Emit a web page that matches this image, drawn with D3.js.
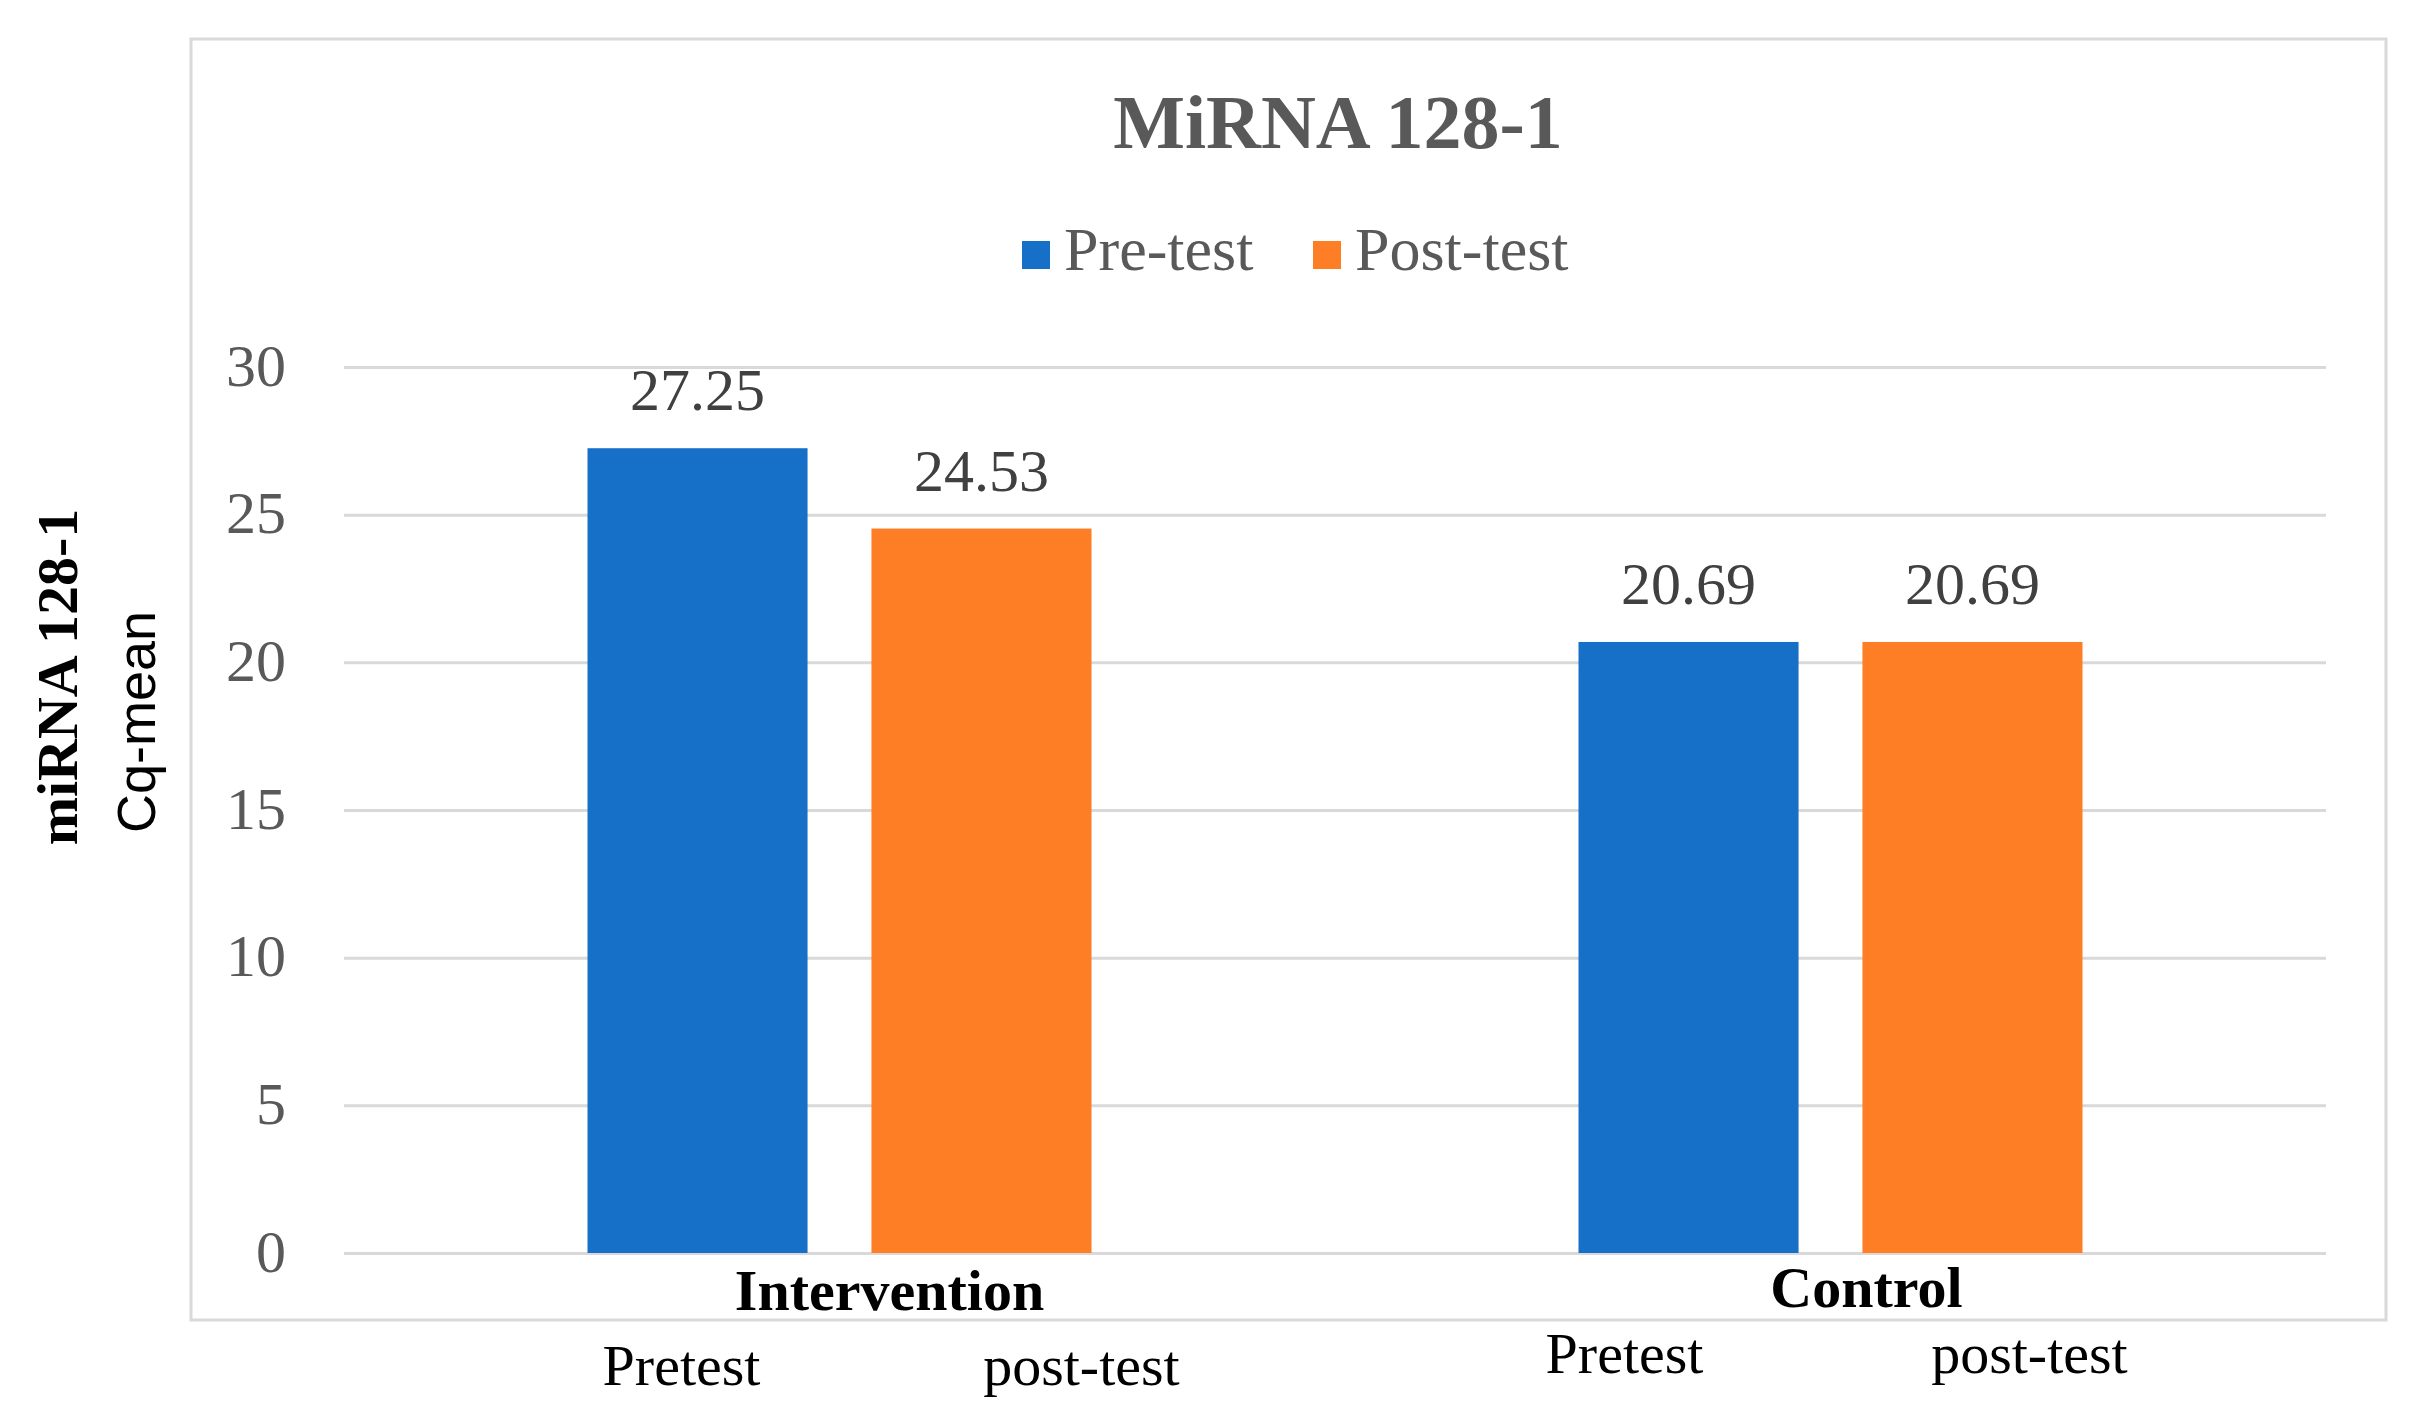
<!DOCTYPE html>
<html>
<head>
<meta charset="utf-8">
<script src="https://cdn.jsdelivr.net/npm/d3@7"></script>
<style>
  html, body { margin: 0; padding: 0; background: #ffffff; }
  svg { display: block; }
</style>
</head>
<body>
<script>
// ---- data ----
const categories = ["Intervention", "Control"];
const seriesNames = ["Pre-test", "Post-test"];
const preTest = [27.25, 20.69];
const postTest = [24.53, 20.69];
const valueLabels = ["27.25", "24.53", "20.69", "20.69"];
const subLabels = [["Pretest", "post-test"], ["Pretest", "post-test"]];
const yTicks = [0, 5, 10, 15, 20, 25, 30];
const chartTitle = "MiRNA 128-1";
const yTitleMain = "miRNA 128-1";
const yTitleSub = "Cq-mean";

// ---- layout ----
const W = 2420, H = 1425;
const colors = ["#1670C8", "#FE7E25"];
const serif = "'Liberation Serif', 'Times New Roman', serif";
const sans = "'Liberation Sans', Arial, sans-serif";
const plot = { left: 344, right: 2326, top: 367, bottom: 1253 };

const svg = d3.select("body").append("svg").attr("width", W).attr("height", H);
svg.append("rect").attr("width", W).attr("height", H).attr("fill", "#fff");

// outer frame
svg.append("rect").attr("x", 191).attr("y", 39).attr("width", 2195).attr("height", 1281)
  .attr("fill", "none").attr("stroke", "#d9d9d9").attr("stroke-width", 3);

const x0 = d3.scaleBand().domain(categories).range([plot.left, plot.right]).padding(0);
const groupW = 504;
const x1 = d3.scaleBand().domain(seriesNames)
  .range([(x0.bandwidth() - groupW) / 2, (x0.bandwidth() + groupW) / 2])
  .paddingInner(0.225).paddingOuter(0);
const y = d3.scaleLinear().domain([0, 30]).range([plot.bottom, plot.top]);

// gridlines via axis
const yAxis = d3.axisLeft(y).tickValues(yTicks).tickSize(-(plot.right - plot.left)).tickPadding(58);
const ga = svg.append("g").attr("transform", `translate(${plot.left},0)`).call(yAxis);
ga.select(".domain").remove();
ga.selectAll(".tick line").attr("stroke", "#d9d9d9").attr("stroke-width", 3);
ga.selectAll(".tick text").attr("font-family", serif).attr("font-size", 60)
  .attr("fill", "#595959").attr("dy", "0.3em");

// bars
const rows = categories.map((c, i) => ({ cat: c, vals: [preTest[i], postTest[i]] }));
const groups = svg.append("g").selectAll("g").data(rows).join("g")
  .attr("transform", d => `translate(${x0(d.cat)},0)`);
groups.selectAll("rect").data((d, i) => d.vals.map((v, j) => ({ s: seriesNames[j], v, j, i })))
  .join("rect")
  .attr("x", d => x1(d.s)).attr("width", x1.bandwidth())
  .attr("y", d => y(d.v)).attr("height", d => y(0) - y(d.v))
  .attr("fill", d => colors[d.j]);

// value labels
groups.selectAll("text.val").data((d, i) => d.vals.map((v, j) => ({ s: seriesNames[j], v, j, i })))
  .join("text").attr("class", "val")
  .attr("x", d => x1(d.s) + x1.bandwidth() / 2)
  .attr("y", d => y(d.v) - 38)
  .attr("text-anchor", "middle")
  .attr("font-family", serif).attr("font-size", 60).attr("fill", "#404040")
  .text(d => valueLabels[d.i * 2 + d.j]);

// category labels
const catDx = [50, 36], catY = [1310, 1307];
svg.append("g").selectAll("text").data(categories).join("text")
  .attr("x", (d, i) => x0(d) + x0.bandwidth() / 2 + catDx[i])
  .attr("y", (d, i) => catY[i])
  .attr("text-anchor", "middle")
  .attr("font-family", serif).attr("font-size", 58).attr("font-weight", "bold").attr("fill", "#000")
  .text(d => d);

// sub labels below frame
const subDx = [[-16, 100], [-64, 57]], subY = [1385, 1373];
categories.forEach((c, i) => {
  seriesNames.forEach((s, j) => {
    svg.append("text")
      .attr("x", x0(c) + x1(s) + x1.bandwidth() / 2 + subDx[i][j])
      .attr("y", subY[i])
      .attr("text-anchor", "middle")
      .attr("font-family", serif).attr("font-size", 58).attr("fill", "#000")
      .text(subLabels[i][j]);
  });
});

// title
svg.append("text").attr("x", 1338).attr("y", 148).attr("text-anchor", "middle")
  .attr("font-family", serif).attr("font-size", 76).attr("font-weight", "bold").attr("fill", "#595959")
  .text(chartTitle);

// legend
const legX = [1022, 1313];
seriesNames.forEach((s, j) => {
  svg.append("rect").attr("x", legX[j]).attr("y", 241).attr("width", 28).attr("height", 28).attr("fill", colors[j]);
  svg.append("text").attr("x", legX[j] + 42).attr("y", 270)
    .attr("font-family", serif).attr("font-size", 62).attr("fill", "#595959").text(s);
});

// y axis titles
svg.append("text").attr("transform", "translate(77,677) rotate(-90)").attr("text-anchor", "middle")
  .attr("font-family", serif).attr("font-size", 58).attr("font-weight", "bold").attr("fill", "#000")
  .text(yTitleMain);
svg.append("text").attr("transform", "translate(155,722) rotate(-90)").attr("text-anchor", "middle")
  .attr("font-family", sans).attr("font-size", 54).attr("fill", "#000")
  .text(yTitleSub);
</script>
</body>
</html>
